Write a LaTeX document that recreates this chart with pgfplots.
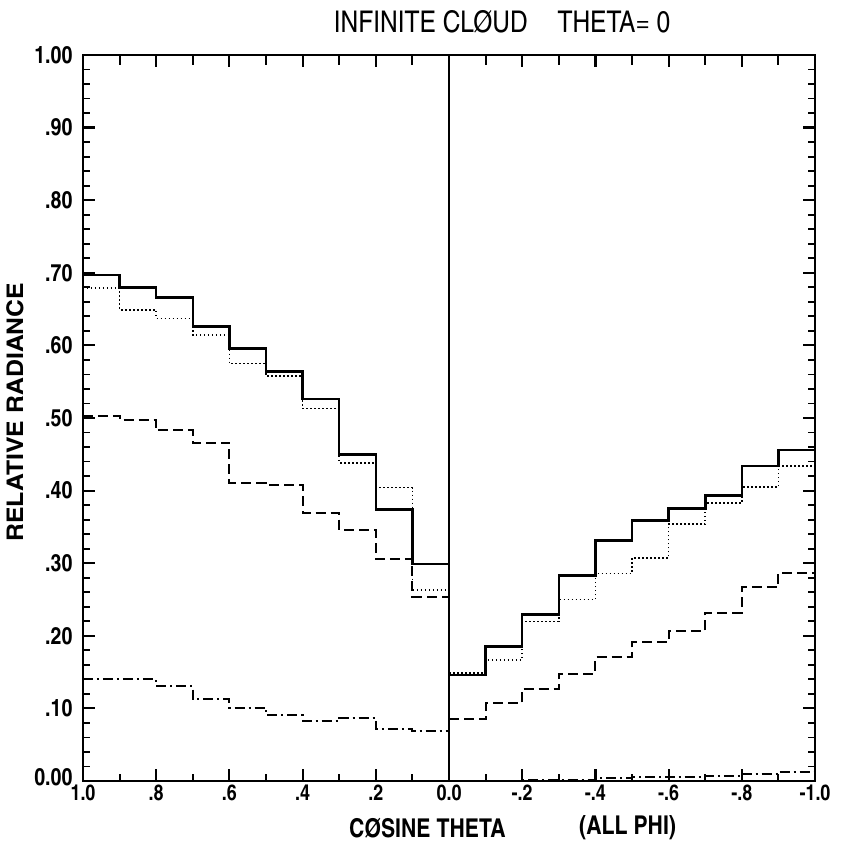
\documentclass[border=0pt]{standalone}
\usepackage{fontspec}
\setmainfont{TeX Gyre Heros Cn}
\usepackage{pgfplots}
\pgfplotsset{compat=1.18}
\begin{document}
\begin{tikzpicture}
\begin{axis}[
  scale only axis, width=732bp, height=726bp,
  xmin=-1, xmax=1, ymin=0, ymax=1,
  axis line style={line width=1.8pt},
  tick align=inside,
  xtick={-1,-0.8,-0.6,-0.4,-0.2,0,0.2,0.4,0.6,0.8,1},
  xticklabels={1.0,.8,.6,.4,.2,0.0,-.2,-.4,-.6,-.8,-1.0},
  minor xtick={-0.9,-0.7,-0.5,-0.3,-0.1,0.1,0.3,0.5,0.7,0.9},
  ytick={0,0.1,0.2,0.3,0.4,0.5,0.6,0.7,0.8,0.9,1},
  yticklabels={\raisebox{7bp}{0.00},.10,.20,.30,.40,.50,.60,.70,.80,.90,1.00},
  minor y tick num=4,
  major tick length=12bp, minor tick length=7bp,
  major tick style={black, line width=2.2pt},
  minor tick style={black, line width=1.8pt},
  xticklabel style={font=\bfseries\fontsize{22}{22}\selectfont},
  yticklabel style={font=\bfseries\fontsize{24}{24}\selectfont, xshift=-7bp},
  clip=false,
]
% x in this axis = -(cosine theta): left edge is cosine 1.0
\addplot[const plot, line width=2.6pt] coordinates {(-1.0,0.697) (-0.9,0.680) (-0.8,0.666) (-0.7,0.626) (-0.6,0.596) (-0.5,0.564) (-0.4,0.526) (-0.3,0.450) (-0.2,0.374) (-0.1,0.299) (0.0,0.299)};
\addplot[const plot, line width=1.5pt, dash pattern=on 1.5bp off 2.5bp] coordinates {(-1.0,0.679) (-0.9,0.649) (-0.8,0.637) (-0.7,0.614) (-0.6,0.575) (-0.5,0.558) (-0.4,0.513) (-0.3,0.438) (-0.2,0.404) (-0.1,0.263) (0.0,0.263)};
\addplot[const plot, line width=2.1pt, dash pattern=on 10bp off 5bp] coordinates {(-1.0,0.503) (-0.9,0.497) (-0.8,0.483) (-0.7,0.466) (-0.6,0.411) (-0.5,0.408) (-0.4,0.369) (-0.3,0.346) (-0.2,0.306) (-0.1,0.254) (0.0,0.254)};
\addplot[const plot, line width=2.1pt, dash pattern=on 10bp off 4bp on 2bp off 4bp] coordinates {(-1.0,0.140) (-0.9,0.140) (-0.8,0.131) (-0.7,0.113) (-0.6,0.101) (-0.5,0.091) (-0.4,0.083) (-0.3,0.087) (-0.2,0.072) (-0.1,0.069) (0.0,0.069)};
\addplot[const plot, line width=2.6pt] coordinates {(0.0,0.146) (0.1,0.185) (0.2,0.229) (0.3,0.283) (0.4,0.331) (0.5,0.359) (0.6,0.375) (0.7,0.393) (0.8,0.434) (0.9,0.456) (1.0,0.456)};
\addplot[const plot, line width=1.5pt, dash pattern=on 1.5bp off 2.5bp] coordinates {(0.0,0.149) (0.1,0.167) (0.2,0.220) (0.3,0.250) (0.4,0.286) (0.5,0.307) (0.6,0.354) (0.7,0.383) (0.8,0.405) (0.9,0.434) (1.0,0.434)};
\addplot[const plot, line width=2.1pt, dash pattern=on 10bp off 5bp] coordinates {(0.0,0.085) (0.1,0.107) (0.2,0.127) (0.3,0.148) (0.4,0.171) (0.5,0.191) (0.6,0.206) (0.7,0.232) (0.8,0.267) (0.9,0.287) (1.0,0.287)};
\addplot[const plot, line width=2.1pt, dash pattern=on 10bp off 4bp on 2bp off 4bp] coordinates {(0.0,0.000) (0.1,0.000) (0.2,0.001) (0.3,0.002) (0.4,0.004) (0.5,0.005) (0.6,0.006) (0.7,0.007) (0.8,0.010) (0.9,0.013) (1.0,0.013)};
\draw[line width=2pt] (axis cs:0,0) -- (axis cs:0,1);
% tick marks on the frame
\pgfplotsinvokeforeach{-0.8,-0.6,-0.4,-0.2,0.2,0.4,0.6,0.8}{
  \draw[black, line width=2.2pt] (axis cs:#1,0) -- ++(0pt,12bp);
  \draw[black, line width=2.2pt] (axis cs:#1,1) -- ++(0pt,-12bp);
}
\pgfplotsinvokeforeach{-0.9,-0.7,-0.5,-0.3,-0.1,0.1,0.3,0.5,0.7,0.9}{
  \draw[black, line width=2pt] (axis cs:#1,0) -- ++(0pt,7bp);
  \draw[black, line width=2pt] (axis cs:#1,1) -- ++(0pt,-10bp);
}
\pgfplotsinvokeforeach{0.1,0.2,0.3,0.4,0.5,0.6,0.7,0.8,0.9}{
  \draw[black, line width=2.2pt] (axis cs:-1,#1) -- ++(12bp,0pt);
  \draw[black, line width=2.2pt] (axis cs:1,#1) -- ++(-12bp,0pt);
}
\pgfplotsinvokeforeach{0.02,0.04,0.06,0.08,0.12,0.14,0.16,0.18,0.22,0.24,0.26,0.28,0.32,0.34,0.36,0.38,0.42,0.44,0.46,0.48,0.52,0.54,0.56,0.58,0.62,0.64,0.66,0.68,0.72,0.74,0.76,0.78,0.82,0.84,0.86,0.88,0.92,0.94,0.96,0.98}{
  \draw[black, line width=1.8pt] (axis cs:-1,#1) -- ++(7bp,0pt);
  \draw[black, line width=1.8pt] (axis cs:1,#1) -- ++(-7bp,0pt);
}
\node[font=\fontsize{30}{30}\selectfont] at ([yshift=33bp]axis cs:0.145,1) {INFINITE CLØUD\hspace{1em}THETA= 0};
\node[font=\bfseries\fontsize{26}{26}\selectfont] at ([yshift=-47bp]axis cs:-0.059,0) {CØSINE THETA};
\node[font=\bfseries\fontsize{26}{26}\selectfont] at ([yshift=-47bp]axis cs:0.488,0) {(ALL PHI)};
\node[font=\bfseries\fontsize{23}{23}\selectfont, rotate=90] at ([xshift=-68bp]axis cs:-1,0.508) {\scalebox{1.32}[1]{RELATIVE RADIANCE}};
\path ([shift={(-83bp,-65bp)}]axis cs:-1,0) rectangle ([shift={(27bp,55bp)}]axis cs:1,1);
\end{axis}
\end{tikzpicture}
\end{document}
